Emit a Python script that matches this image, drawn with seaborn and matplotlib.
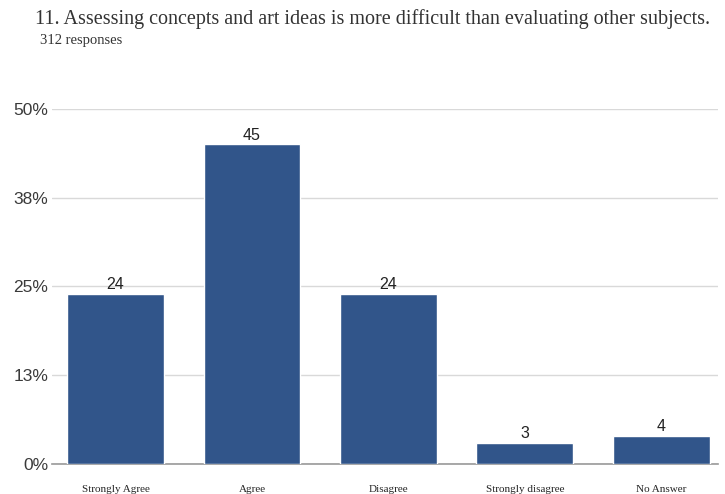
import matplotlib
matplotlib.use("Agg")
import matplotlib.pyplot as plt
import seaborn as sns
import pandas as pd

# survey answers (percent of responses)
categories = ["Strongly Agree", "Agree", "Disagree", "Strongly disagree", "No Answer"]
percents = [24, 45, 24, 3, 4]
ytick_vals = [0, 12.5, 25, 37.5, 50]
ytick_labels = ["0%", "13%", "25%", "38%", "50%"]

title = "11. Assessing concepts and art ideas is more difficult than evaluating other subjects."
subtitle = "312 responses"

sns.set_style("white")
plt.rcParams["font.family"] = ["Liberation Sans", "DejaVu Sans"]

df = pd.DataFrame({"answer": categories, "pct": percents})

fig = plt.figure(figsize=(7.25, 4.94), dpi=100)
ax = fig.add_axes([0.072, 0.0607, 0.919, 0.7187])

sns.barplot(data=df, x="answer", y="pct", color="#31558a", saturation=1,
            width=0.71, ax=ax, zorder=3)

ax.set_xlim(-0.465, 4.42)
ax.set_ylim(0, 50)
ax.set_yticks(ytick_vals)
ax.set_yticklabels(ytick_labels, fontsize=12.5, color="#3a3a3a")
ax.yaxis.grid(True, color="#d9d9d9", linewidth=1, zorder=0)
ax.tick_params(axis="y", length=0, pad=3)
ax.tick_params(axis="x", length=0, pad=15)
for lbl in ax.get_xticklabels():
    lbl.set_family("Liberation Serif")
    lbl.set_fontsize(8)
ax.set_xlabel("")
ax.set_ylabel("")
for s in ["top", "right", "left"]:
    ax.spines[s].set_visible(False)
ax.spines["bottom"].set_color("#999999")
ax.spines["bottom"].set_linewidth(1.2)

for cont in ax.containers:
    ax.bar_label(cont, labels=[str(v) for v in percents], fontsize=11.5,
                 padding=1, color="#222222")

fig.text(0.048, 0.962, title, family="Liberation Serif", fontsize=14.5,
         color="#333333", va="center")
fig.text(0.055, 0.918, subtitle, family="Liberation Serif", fontsize=10.5,
         color="#333333", va="center")

fig.savefig("out.png", dpi=100)
